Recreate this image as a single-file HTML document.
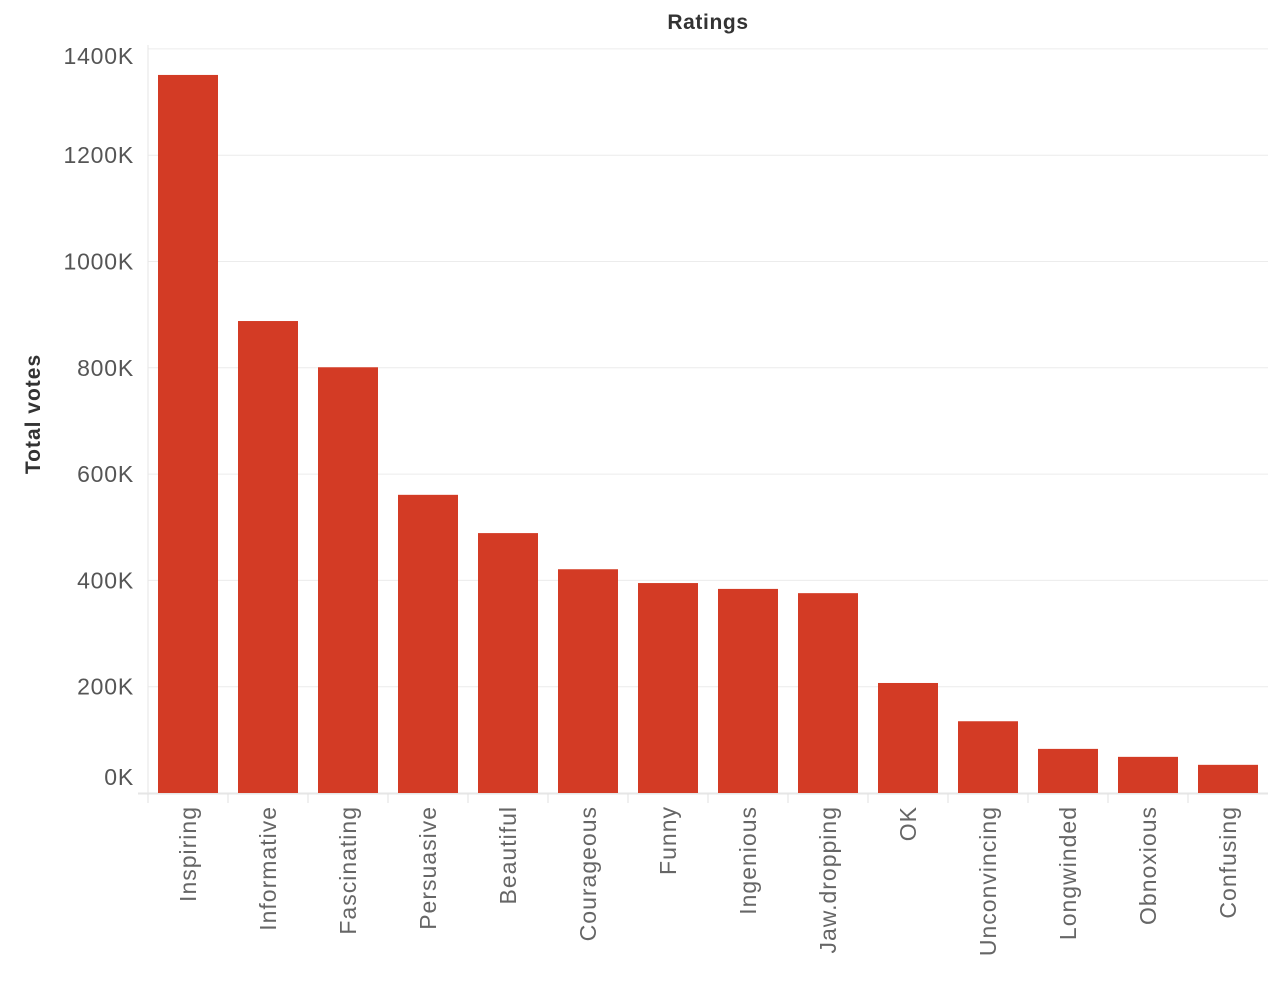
<!DOCTYPE html>
<html><head><meta charset="utf-8"><style>
body{margin:0;background:#fff;width:1268px;height:994px;overflow:hidden;font-family:"Liberation Sans",sans-serif}
</style></head><body>
<svg id="chart" width="1268" height="994" xmlns="http://www.w3.org/2000/svg"></svg>
<script>
const categories=["Inspiring","Informative","Fascinating","Persuasive","Beautiful","Courageous","Funny","Ingenious","Jaw.dropping","OK","Unconvincing","Longwinded","Obnoxious","Confusing"];
const votes=[1351,888,801,561,489,421,395,384,376,207,135,83,68,53];
const yTicks=[0,200,400,600,800,1000,1200,1400];
const yTickLabels=["0K","200K","400K","600K","800K","1000K","1200K","1400K"];
const svg=document.getElementById('chart');
const NS="http://www.w3.org/2000/svg";
const y0=793, kPerPx=200/106.3;
function y(v){return y0-v/kPerPx;}
function x(i){return 148+i*80;}
function mk(t,a,parent){const e=document.createElementNS(NS,t);for(const k in a)e.setAttribute(k,a[k]);(parent||svg).appendChild(e);return e;}
const title=mk('text',{x:708,y:29,'text-anchor':'middle','font-size':21,fill:'#333','font-weight':'bold','letter-spacing':0.6});
title.textContent='Ratings';


const yt=mk('text',{transform:'translate(40,414) rotate(-90)','text-anchor':'middle','font-size':21,fill:'#333','font-weight':'bold','letter-spacing':1});
yt.textContent='Total votes';


yTicks.forEach((v,i)=>{
  const g=mk('line',{x1:148,x2:1268,y1:y(v),y2:y(v),stroke:'#ececec','stroke-width':1});
  
  
  let ly=y(v)+8; if(i==0) ly=y(v)-8; if(i==yTicks.length-1) ly=y(v)+15;
  const t=mk('text',{x:134,y:ly,'text-anchor':'end','font-size':23,fill:'#555','letter-spacing':0.8});
  t.textContent=yTickLabels[i];
  
  
});
const va=mk('line',{x1:148,x2:148,y1:45,y2:793,stroke:'#e6e6e6'});


const xa=mk('line',{x1:138,x2:1268,y1:793.5,y2:793.5,stroke:'#e6e6e6','stroke-width':2});


categories.forEach((c,i)=>{
  const tk=mk('line',{x1:x(i),x2:x(i),y1:794,y2:803,stroke:'#e0e0e0'});
  
  
  const b=mk('rect',{x:x(i)+10,y:y(votes[i]),width:60,height:y0-y(votes[i]),fill:'#d33b25'});
  
  
  const t=mk('text',{transform:`translate(${x(i)+48},806) rotate(-90)`,'text-anchor':'end','font-size':23,fill:'#666','letter-spacing':1});
  t.textContent=c;
  
  
});
</script>
</body></html>
